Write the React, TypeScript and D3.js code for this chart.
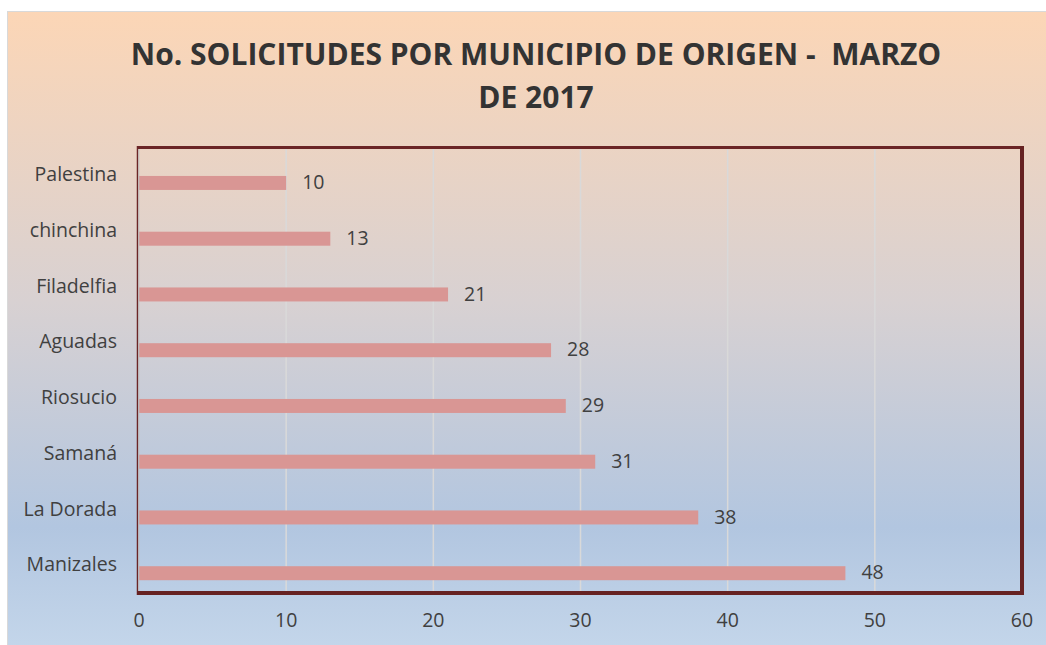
import React from "react";
import * as d3 from "d3";

const categories = ["Palestina", "chinchina", "Filadelfia", "Aguadas", "Riosucio", "Samaná", "La Dorada", "Manizales"];
const values = [10, 13, 21, 28, 29, 31, 38, 48];
const xTicks = [0, 10, 20, 30, 40, 50, 60];
const titleLines = ["No. SOLICITUDES POR MUNICIPIO DE ORIGEN -  MARZO", "DE 2017"];

const W = 1046;
const H = 645;
const FONT = "'Open Sans', 'Noto Sans', sans-serif";

export default function App() {
  const plot = { left: 139, right: 1022, top: 147, bottom: 593 };
  const x = d3.scaleLinear().domain([0, 60]).range([plot.left, plot.right]);
  const y = d3.scaleBand<string>().domain(categories).range([plot.top, plot.bottom]).paddingInner(0).paddingOuter(0);
  const bw = y.bandwidth();
  const barH = 14;
  const barOffset = bw * 0.645; // bar centre inside band

  return (
    <svg width={W} height={H} style={{ position: "absolute", left: 0, top: 0 }}>
      <defs>
        <linearGradient id="bg" x1="0" y1="0" x2="0" y2="1">
          <stop offset="0" stopColor="#fcd6b6" />
          <stop offset="0.45" stopColor="#d8d1d2" />
          <stop offset="0.8" stopColor="#b2c6e0" />
          <stop offset="1" stopColor="#c5d7eb" />
        </linearGradient>
      </defs>
      <rect x={0} y={0} width={W} height={H} fill="#ffffff" />
      <rect x={7.5} y={11.5} width={W} height={H} fill="url(#bg)" stroke="#d9d9d9" strokeWidth={1} />

      {titleLines.map((t, i) => (
        <text
          key={i}
          x={536}
          y={65 + i * 43}
          textAnchor="middle"
          fontFamily={FONT}
          fontWeight="bold"
          fontSize={30}
          fill="#333333"
          style={{ whiteSpace: "pre" }}
        >
          {t}
        </text>
      ))}

      {/* gridlines */}
      {xTicks.slice(1, -1).map((t) => (
        <line key={t} x1={x(t)} x2={x(t)} y1={plot.top} y2={plot.bottom} stroke="#d9d9d9" strokeWidth={1.5} />
      ))}

      {/* bars */}
      {categories.map((c, i) => {
        const cy = (y(c) as number) + barOffset;
        return (
          <g key={c}>
            <rect x={x(0)} y={cy - barH / 2} width={x(values[i]) - x(0)} height={barH} fill="#d99694" />
            <text x={x(values[i]) + 16} y={cy + 1} dominantBaseline="middle" fontFamily={FONT} fontSize={19.5} fill="#404040">
              {values[i]}
            </text>
            <text x={117} y={(y(c) as number) + bw / 2 + 1} textAnchor="end" dominantBaseline="middle" fontFamily={FONT} fontSize={19.5} fill="#404040">
              {c}
            </text>
          </g>
        );
      })}

      {/* plot border */}
      <line x1={137.5} x2={137.5} y1={146} y2={595} stroke="#6b2526" strokeWidth={1.5} />
      <line x1={138.8} x2={138.8} y1={149} y2={591} stroke="#bfbfbf" strokeWidth={1} />
      <rect x={137} y={146} width={887} height={3} fill="#6b2526" />
      <rect x={1020} y={146} width={4} height={449} fill="#662222" />
      <rect x={137} y={591} width={887} height={4} fill="#662222" />

      {/* x tick labels */}
      {xTicks.map((t) => (
        <text key={t} x={x(t)} y={622} textAnchor="middle" dominantBaseline="middle" fontFamily={FONT} fontSize={19.5} fill="#404040">
          {t}
        </text>
      ))}
    </svg>
  );
}
